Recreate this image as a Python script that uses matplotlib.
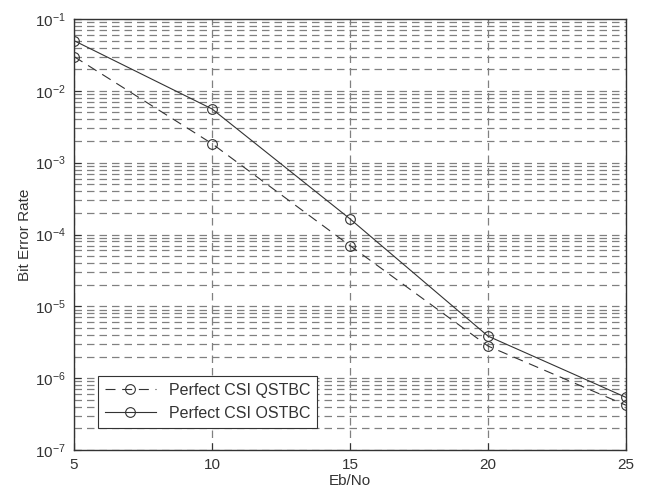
import numpy as np
import matplotlib
matplotlib.use("Agg")
import matplotlib.pyplot as plt
from matplotlib.ticker import FixedLocator, NullFormatter, LogFormatterSciNotation

plt.rcParams['font.family'] = ['Liberation Sans', 'DejaVu Sans']

ebno = [5, 10, 15, 20, 25]
ber_qstbc = [3.0e-2, 1.84e-3, 7.0e-5, 2.8e-6, 4.2e-7]
ber_ostbc = [5.0e-2, 5.6e-3, 1.65e-4, 3.85e-6, 5.4e-7]
labels = ['Perfect CSI QSTBC', 'Perfect CSI OSTBC']
decades = [1e-7, 1e-6, 1e-5, 1e-4, 1e-3, 1e-2, 1e-1]

ink = '#333333'
gridc = '#808080'

fig = plt.figure(figsize=(6.49, 4.97), dpi=100)
ax = fig.add_axes([74/649, 47/497, 552/649, 431/497])

ax.semilogy(ebno, ber_qstbc, color=ink, lw=0.8, ls=(0, (9, 6)),
            marker='o', ms=7, mfc='none', mec=ink, mew=0.8, label=labels[0])
ax.semilogy(ebno, ber_ostbc, color=ink, lw=0.8, ls='-',
            marker='o', ms=7, mfc='none', mec=ink, mew=0.8, label=labels[1])

ax.set_xlim(5, 25)
ax.set_ylim(1e-7, 1e-1)
ax.xaxis.set_major_locator(FixedLocator(ebno))
ax.yaxis.set_major_locator(FixedLocator(decades))
ax.yaxis.set_major_formatter(LogFormatterSciNotation())
minor = [m * d for d in decades[:-1] for m in range(2, 10)]
ax.yaxis.set_minor_locator(FixedLocator(minor))
ax.yaxis.set_minor_formatter(NullFormatter())

ax.grid(True, which='major', color=gridc, ls=(0, (6, 4)), lw=0.9)
ax.grid(True, which='minor', axis='y', color=gridc, ls=(0, (6, 4)), lw=0.9)
ax.set_axisbelow(True)

ax.tick_params(which='both', direction='in', colors=ink, labelsize=11,
               top=False, right=False)
ax.tick_params(which='minor', length=0)
ax.tick_params(which='major', length=5)
ax.tick_params(axis='x', pad=6)
ax.tick_params(axis='y', pad=6)
for s in ax.spines.values():
    s.set_color(ink)
    s.set_linewidth(1.0)

ax.set_xlabel('Eb/No', color=ink, fontsize=11, labelpad=1)
ax.set_ylabel('Bit Error Rate', color=ink, fontsize=11, labelpad=2)

leg = ax.legend(loc='lower left', bbox_to_anchor=(0.043, 0.051), borderaxespad=0,
                prop={'size': 11.5}, fancybox=False, framealpha=1, edgecolor=ink,
                handlelength=3.2, labelspacing=0.5, borderpad=0.45)
leg.get_frame().set_linewidth(0.8)
for t in leg.get_texts():
    t.set_color(ink)

fig.savefig('out.png', dpi=100)
